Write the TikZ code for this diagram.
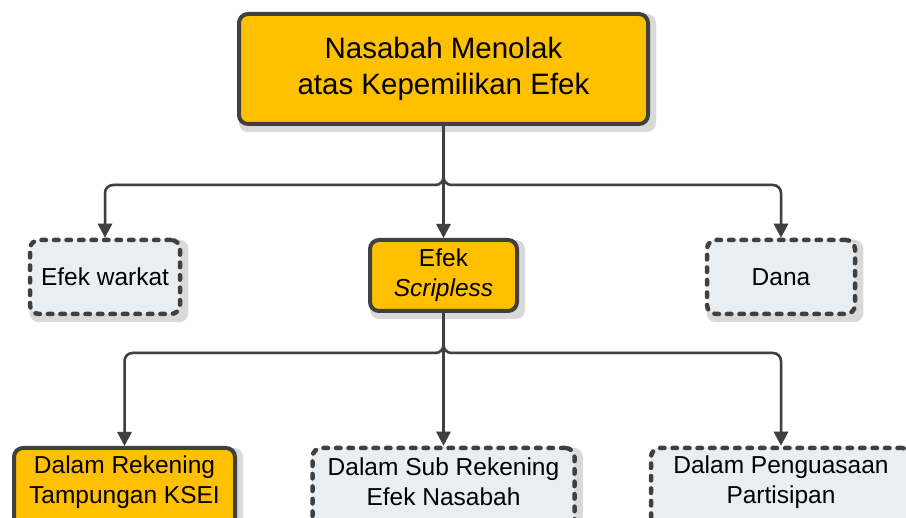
\documentclass[tikz,border=0pt]{standalone}
\usepackage{fontspec}
\setmainfont{Liberation Sans}
\usetikzlibrary{arrows.meta}
\definecolor{boxorange}{HTML}{FFC000}
\definecolor{boxgrey}{HTML}{E8EEF1}
\definecolor{edge}{HTML}{404040}
\definecolor{shade}{HTML}{D9D9D9}
\pgfdeclarelayer{shadows}
\pgfdeclarelayer{links}
\pgfsetlayers{shadows,links,main}
\tikzset{
  box/.style={rounded corners=9pt, line width=4pt, draw=edge, align=center,
    inner sep=0pt, font=\fontsize{24.5}{30}\selectfont},
  solidbox/.style={box, fill=boxorange},
  dashbox/.style={box, fill=boxgrey, line width=4.5pt, dash pattern=on 4.5pt off 8pt, line cap=round},
  boxtext/.style={align=center, inner sep=0pt, font=\fontsize{24.5}{30}\selectfont},
  tip/.style={-{Triangle[width=14pt,length=14pt]}},
  link/.style={draw=edge, line width=2.5pt, rounded corners=8pt, tip},
  linkshade/.style={draw=shade, line width=3pt, rounded corners=8pt, tip, shift={(3,3)}},
  boxshade/.style={fill=shade, rounded corners=9pt},
}
\begin{document}
\begin{tikzpicture}[x=1pt,y=-1pt]
\useasboundingbox (0,0) rectangle (906,518);

% upper boxes
\node[solidbox, minimum width=409pt, minimum height=110pt,
      font=\fontsize{29.5}{36}\selectfont] (root) at (443.5,69)
      {Nasabah Menolak\\atas Kepemilikan Efek};
\node[dashbox, minimum width=150pt, minimum height=74pt] (wark) at (105,277) {Efek warkat};
\node[solidbox, minimum width=147pt, minimum height=71pt] (scrip) at (443.5,275.5) {Efek\\\textit{Scripless}};
\node[dashbox, minimum width=148pt, minimum height=74pt] (dana) at (781,277) {Dana};

% lower boxes run past the bottom edge; their labels sit near the top
\node[solidbox, minimum width=221pt, minimum height=80pt] (ksei) at (124.5,488) {};
\node[dashbox, minimum width=262pt, minimum height=80pt] (sub) at (443.5,488) {};
\node[dashbox, minimum width=260pt, minimum height=80pt] (part) at (781,488) {};
\node[boxtext] (kseitext) at (124.5,482) {Dalam Rekening\\Tampungan KSEI};
\node[boxtext] (subtext) at (443.5,482) {Dalam Sub Rekening\\Efek Nasabah};
\node[boxtext] (parttext) at (781,482) {Dalam Penguasaan\\Partisipan};

% branch points
\coordinate (j1) at (443.5,185);
\coordinate (j2) at (443.5,353);

% box shadows
\begin{pgfonlayer}{shadows}
\foreach \n in {root,wark,scrip,dana,ksei,sub,part}
  \fill[boxshade] ([shift={(2,2)}]\n.north west) rectangle ([shift={(6,6)}]\n.south east);
\end{pgfonlayer}

% connectors
\begin{pgfonlayer}{links}
\foreach \s in {linkshade,link} {
  \draw[\s] (root.south) -- (root.south |- j1) -| (wark.north);
  \draw[\s] (root.south) -- (root.south |- j1) -| (dana.north);
  \draw[\s] (root.south) -- (scrip.north);
  \draw[\s] (scrip.south) -- (scrip.south |- j2) -| (ksei.north);
  \draw[\s] (scrip.south) -- (scrip.south |- j2) -| (part.north);
  \draw[\s] (scrip.south) -- (sub.north);
}
\end{pgfonlayer}
\end{tikzpicture}
\end{document}
